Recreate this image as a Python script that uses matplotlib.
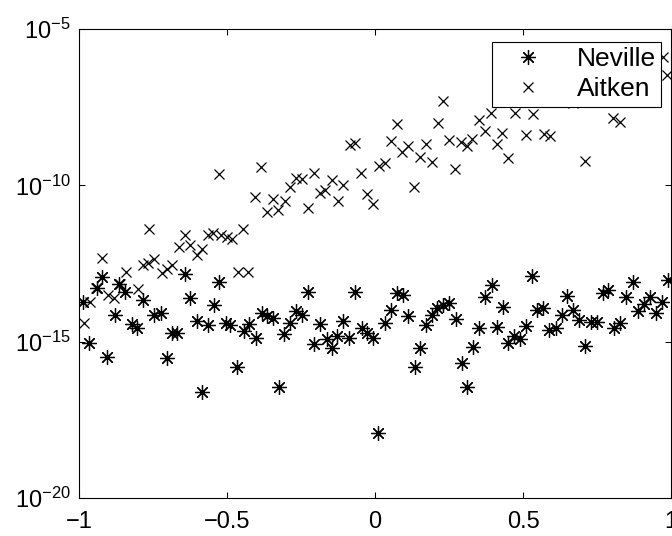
import matplotlib
matplotlib.use("Agg")
import matplotlib.pyplot as plt
from matplotlib.ticker import NullLocator

plt.rcParams['font.family'] = ['Liberation Sans', 'DejaVu Sans']
plt.rcParams['mathtext.default'] = 'regular'

# --- datos ---
x_neville = [-0.986, -0.966, -0.939, -0.922, -0.905, -0.878, -0.865, -0.845, -0.821, -0.804,
             -0.784, -0.747, -0.723, -0.703, -0.686, -0.669, -0.642, -0.625, -0.601, -0.584,
             -0.564, -0.544, -0.527, -0.503, -0.490, -0.466, -0.443, -0.426, -0.402, -0.382,
             -0.365, -0.345, -0.324, -0.307, -0.287, -0.267, -0.247, -0.226, -0.206, -0.186,
             -0.162, -0.145, -0.128, -0.108, -0.088, -0.068, -0.044, -0.027, -0.007, 0.010,
             0.034, 0.054, 0.074, 0.095, 0.111, 0.135, 0.152, 0.172, 0.193, 0.209,
             0.230, 0.250, 0.274, 0.294, 0.311, 0.331, 0.351, 0.372, 0.395, 0.412,
             0.432, 0.449, 0.470, 0.490, 0.510, 0.530, 0.547, 0.568, 0.588, 0.611,
             0.632, 0.649, 0.669, 0.689, 0.709, 0.730, 0.750, 0.770, 0.787, 0.807,
             0.828, 0.848, 0.872, 0.889, 0.909, 0.929, 0.949, 0.970, 0.990]
err_neville = [1.86e-14, 9.08e-16, 5.21e-14, 1.17e-13, 3.24e-16, 7.14e-15, 7.00e-14, 3.88e-14, 3.68e-15, 2.74e-15,
               2.16e-14, 7.14e-15, 8.28e-15, 3.01e-16, 1.90e-15, 1.90e-15, 1.46e-13, 2.49e-14, 4.59e-15, 2.46e-17,
               3.42e-15, 1.49e-14, 8.11e-14, 3.96e-15, 3.42e-15, 1.55e-16, 2.20e-15, 3.68e-15, 1.31e-15, 8.28e-15,
               6.64e-15, 5.73e-15, 3.56e-17, 1.76e-15, 3.96e-15, 9.59e-15, 7.14e-15, 3.88e-14, 8.43e-16, 3.68e-15,
               1.22e-15, 6.30e-16, 1.52e-15, 4.59e-15, 1.31e-15, 3.88e-14, 2.74e-15, 1.90e-15, 1.31e-15, 1.20e-18,
               3.96e-15, 1.03e-14, 3.61e-14, 3.11e-14, 6.64e-15, 1.55e-16, 6.30e-16, 3.42e-15, 7.14e-15, 1.20e-14,
               1.49e-14, 1.73e-14, 5.32e-15, 2.08e-16, 3.56e-17, 6.76e-16, 2.74e-15, 2.69e-14, 6.50e-14, 2.95e-15,
               1.29e-14, 9.08e-16, 1.52e-15, 1.22e-15, 3.18e-15, 1.26e-13, 1.03e-14, 1.20e-14, 2.37e-15, 2.74e-15,
               7.14e-15, 2.89e-14, 1.03e-14, 4.94e-15, 7.28e-16, 4.27e-15, 4.27e-15, 3.61e-14, 4.50e-14, 2.74e-15,
               3.96e-15, 2.69e-14, 8.11e-14, 9.59e-15, 1.61e-14, 2.69e-14, 8.28e-15, 1.86e-14, 9.40e-14]

x_aitken = [-0.983, -0.963, -0.943, -0.922, -0.902, -0.882, -0.861, -0.841, -0.801, -0.784,
            -0.767, -0.764, -0.747, -0.720, -0.703, -0.686, -0.662, -0.642, -0.625, -0.601,
            -0.584, -0.564, -0.547, -0.527, -0.520, -0.500, -0.483, -0.463, -0.446, -0.429,
            -0.405, -0.385, -0.365, -0.345, -0.328, -0.304, -0.287, -0.267, -0.247, -0.226,
            -0.206, -0.186, -0.169, -0.145, -0.125, -0.108, -0.084, -0.068, -0.047, -0.027,
            -0.007, 0.014, 0.034, 0.054, 0.074, 0.091, 0.111, 0.132, 0.152, 0.172,
            0.193, 0.213, 0.230, 0.250, 0.270, 0.291, 0.311, 0.328, 0.351, 0.372,
            0.392, 0.412, 0.429, 0.449, 0.473, 0.510, 0.534, 0.571, 0.591, 0.611,
            0.632, 0.649, 0.669, 0.689, 0.709, 0.750, 0.770, 0.804, 0.828, 0.848,
            0.889, 0.929, 0.973, 0.986]
err_aitken = [3.96e-15, 1.86e-14, 5.21e-14, 4.75e-13, 3.11e-14, 2.49e-14, 7.00e-14, 1.69e-13, 4.84e-14, 2.84e-13,
              3.29e-13, 4.02e-12, 4.42e-13, 1.57e-13, 2.11e-13, 2.84e-13, 1.07e-12, 2.58e-12, 1.24e-12, 5.93e-13,
              9.20e-13, 2.58e-12, 2.99e-12, 2.31e-10, 2.58e-12, 2.23e-12, 1.92e-12, 1.69e-13, 4.02e-12, 1.69e-13,
              4.24e-11, 3.86e-10, 1.41e-11, 3.66e-11, 1.63e-11, 3.16e-11, 8.85e-11, 1.72e-10, 1.60e-10, 1.89e-11,
              2.48e-10, 5.69e-11, 7.10e-11, 1.48e-10, 3.16e-11, 1.03e-10, 1.95e-09, 2.26e-09, 2.48e-10, 5.28e-11,
              2.54e-11, 4.16e-10, 5.19e-10, 2.62e-09, 9.16e-09, 1.17e-09, 1.81e-09, 8.85e-11, 8.07e-10, 2.10e-09,
              5.58e-10, 9.86e-09, 4.98e-08, 2.82e-09, 3.33e-10, 2.43e-09, 1.81e-09, 3.03e-09, 1.23e-08, 5.47e-09,
              2.06e-08, 2.10e-09, 4.72e-09, 7.50e-10, 2.06e-08, 4.07e-09, 1.91e-08, 4.39e-09, 3.78e-09, 8.0e-08,
              2.0e-07, 6.0e-08, 4.3e-08, 1.0e-07, 6.01e-10, 3.0e-07, 1.5e-07, 1.43e-08, 1.06e-08, 4.0e-07,
              2.0e-07, 5.0e-07, 1.27e-06, 3.38e-07]

yticks = [1e-20, 1e-15, 1e-10, 1e-5]
ytick_labels = ['$10^{-20}$', '$10^{-15}$', '$10^{-10}$', '$10^{-5}$']
xticks = [-1, -0.5, 0, 0.5, 1]
xtick_labels = ['\u22121', '\u22120.5', '0', '0.5', '1']

fig = plt.figure(figsize=(6.72, 5.36), dpi=100)
ax = fig.add_axes([79 / 672, 38 / 536, 592 / 672, 469 / 536])

ax.semilogy(x_neville, err_neville, linestyle='none', marker=(8, 2, 0), markersize=10.5,
            markeredgewidth=0.9, color='black', label='Neville')
ax.semilogy(x_aitken, err_aitken, linestyle='none', marker='x', markersize=7.7,
            markeredgewidth=0.9, color='black', label='Aitken')

ax.set_xlim(-1, 1)
ax.set_ylim(1e-20, 1e-5)
ax.set_xticks(xticks)
ax.set_xticklabels(xtick_labels)
ax.set_yticks(yticks)
ax.set_yticklabels(ytick_labels)
ax.yaxis.set_minor_locator(NullLocator())

ax.tick_params(direction='in', length=4.5, width=0.75, top=True, right=True, labelsize=17)
ax.tick_params(axis='x', pad=9)
ax.tick_params(axis='y', pad=6)
for s in ax.spines.values():
    s.set_linewidth(0.8)

# leyenda estilo matlab: caja negra, esquinas rectas
leg = ax.legend(loc='upper right', bbox_to_anchor=((661 - 79) / 592, 1 - 13 / 469),
                borderaxespad=0, fontsize=19, frameon=True, fancybox=False,
                handlelength=2.3, handletextpad=0.7, borderpad=0.2, labelspacing=0.23)
leg.get_frame().set_edgecolor('black')
leg.get_frame().set_linewidth(0.8)
leg.get_frame().set_alpha(1)

fig.savefig('out.png', dpi=100)
